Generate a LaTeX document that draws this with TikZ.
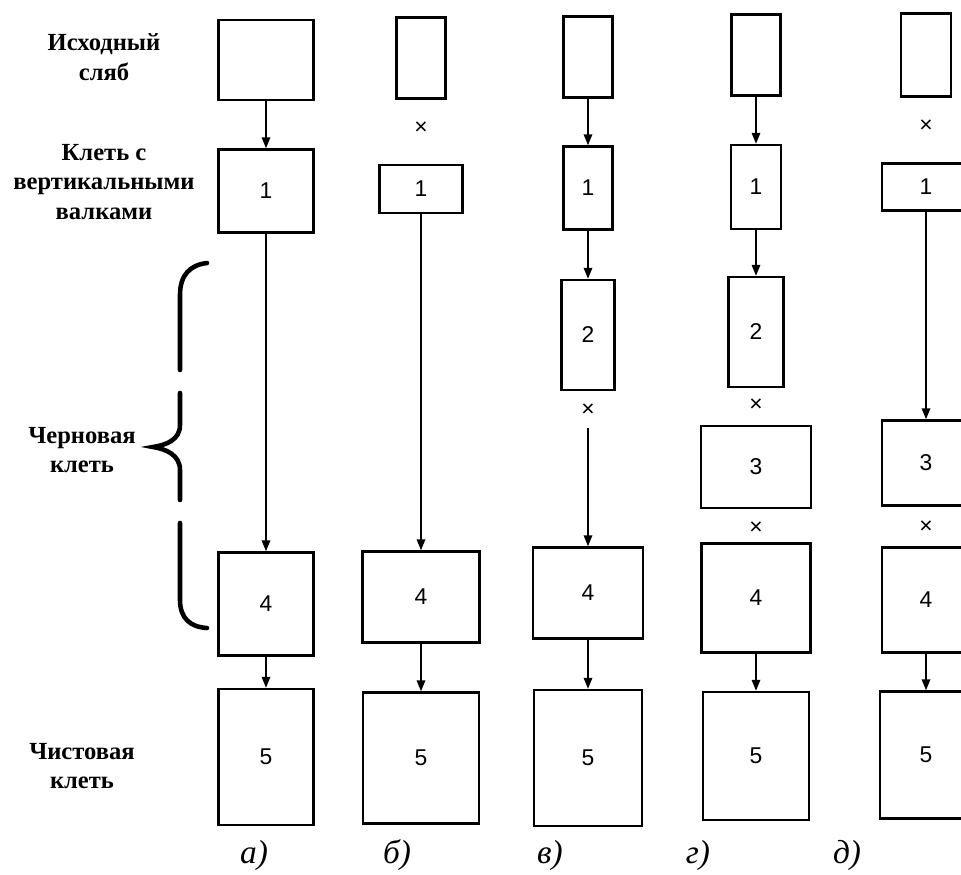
\documentclass[tikz,border=0pt]{standalone}
\usepackage{fontspec}
\setmainfont{Liberation Serif}
\newfontfamily\numfont{Liberation Sans}
\usetikzlibrary{arrows.meta}

\begin{document}
\begin{tikzpicture}[
  x=0.2mm, y=-0.2mm,
  font=\fontsize{14}{17}\selectfont\bfseries,
  stand/.style n args={2}{draw, line width=1.4pt, inner sep=0pt, minimum width=#1*0.2mm, minimum height=#2*0.2mm, font=\numfont\fontsize{13}{14}\selectfont},
  cross/.style={inner sep=0pt, font=\numfont\fontsize{13}{13}\selectfont},
  side/.style={align=center},
  sub/.style={font=\fontsize{19}{19}\selectfont\itshape},
  arr/.style={-{Triangle[length=2.2mm, width=1.7mm]}, line width=1pt},
  brace/.style={line width=2.6pt, line cap=round}
]
\useasboundingbox (0,0) rectangle (961,874);
% row labels
\node[side] (slab) at (104,57) {Исходный\\сляб};
\node[side] (edger) at (104,182) {Клеть с\\вертикальными\\валками};
\node[side] (rough) at (82,450) {Черновая\\клеть};
\node[side] (finish) at (82,766) {Чистовая\\клеть};
% brace
\draw[brace] (207,263) .. controls (190,265) and (180,275) .. (180,295) -- (180,370);
\draw[brace] (180,393) -- (180,425) .. controls (180,440) and (166,445) .. (153,447)
  .. controls (166,449) and (180,455) .. (180,470) -- (180,500);
\draw[brace] (180,523) -- (180,600) .. controls (180,618) and (190,627) .. (207,628);
% a)
\node[stand={95}{80}] (a0) at (266,60) {};
\node[stand={95}{83}] (a1) at (266,191) {1};
\node[stand={95}{103}] (a4) at (266,604) {4};
\node[stand={95}{136}] (a5) at (266,757) {5};
\draw[arr] (a0) -- (a1);
\draw[arr] (a1) -- (a4);
\draw[arr] (a4) -- (a5);
\node[sub] (la) at (254,855) {а)};
% b)
\node[stand={49}{81}] (b0) at (421,58) {};
\node[cross] (bx) at (421,128) {×};
\node[stand={83}{48}] (b1) at (421,189) {1};
\node[stand={117}{91}] (b4) at (421,597) {4};
\node[stand={116}{131}] (b5) at (421,758) {5};
\draw[arr] (b1) -- (b4);
\draw[arr] (b4) -- (b5);
\node[sub] (lb) at (397,855) {б)};
% c)
\node[stand={49}{81}] (c0) at (588,57) {};
\node[stand={49}{83}] (c1) at (588,188) {1};
\node[stand={53}{110}] (c2) at (588,335) {2};
\node[cross] (cx) at (588,410) {×};
\coordinate (cs) at (588,428);
\node[stand={110}{91}] (c4) at (588,593) {4};
\node[stand={108}{136}] (c5) at (588,758) {5};
\draw[arr] (c0) -- (c1);
\draw[arr] (c1) -- (c2);
\draw[arr] (cs) -- (c4);
\draw[arr] (c4) -- (c5);
\node[sub] (lc) at (550,855) {в)};
% d)
\node[stand={49}{81}] (d0) at (756,55) {};
\node[stand={50}{84}] (d1) at (756,187) {1};
\node[stand={55}{110}] (d2) at (756,332) {2};
\node[cross] (dx1) at (756,405) {×};
\node[stand={110}{82}] (d3) at (756,467) {3};
\node[cross] (dx2) at (756,528) {×};
\node[stand={109}{109}] (d4) at (756,598) {4};
\node[stand={106}{128}] (d5) at (756,756) {5};
\draw[arr] (d0) -- (d1);
\draw[arr] (d1) -- (d2);
\draw[arr] (d4) -- (d5);
\node[sub] (ld) at (698,855) {г)};
% e)
\node[stand={50}{83}] (e0) at (926,55) {};
\node[cross] (ex1) at (926,126) {×};
\node[stand={88}{47}] (e1) at (926,187) {1};
\node[stand={88}{85}] (e3) at (926,463) {3};
\node[cross] (ex2) at (926,527) {×};
\node[stand={88}{105}] (e4) at (926,600) {4};
\node[stand={92}{127}] (e5) at (926,755) {5};
\draw[arr] (e1) -- (e3);
\draw[arr] (e4) -- (e5);
\node[sub] (le) at (847,855) {д)};
\end{tikzpicture}
\end{document}
